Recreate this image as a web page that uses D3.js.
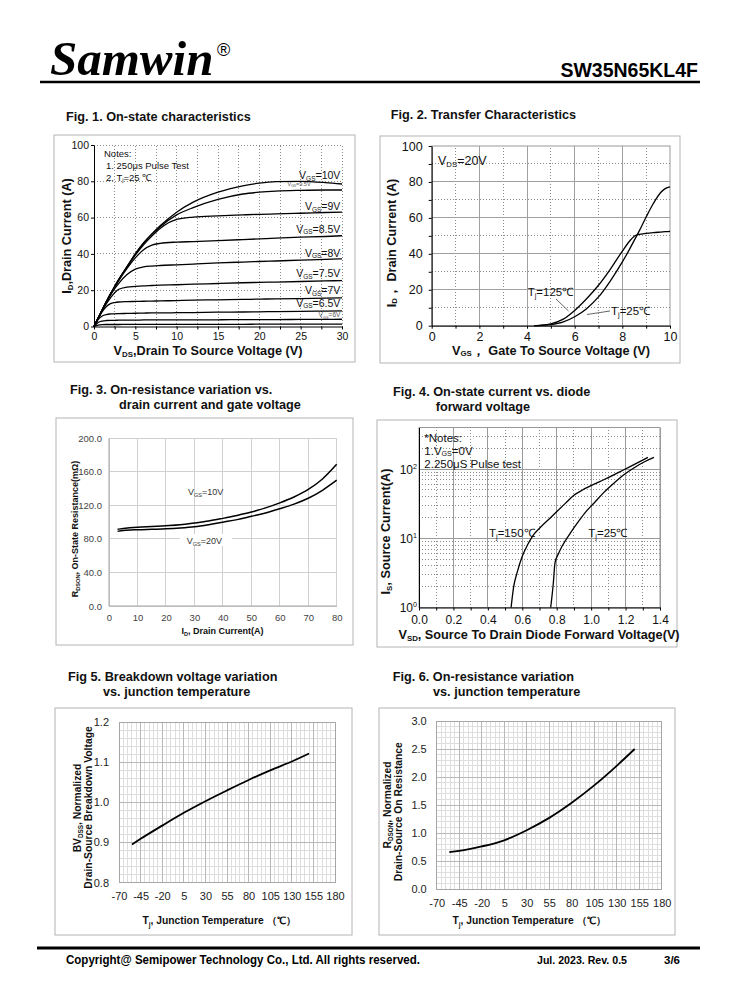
<!DOCTYPE html>
<html><head><meta charset="utf-8">
<script src="https://cdn.jsdelivr.net/npm/d3@7"></script>
<style>
body{margin:0;background:#fff;}
svg{display:block;font-family:"Liberation Sans",Arial,sans-serif;}
</style></head><body>
<svg id="c" width="738" height="1000"></svg>
<script>
// ---------------- DATA ----------------
// Fig 1: on-state characteristics (ID vs VDS)
const fig1Vds = [0,0.5,1,1.5,2,2.5,3,4,5,6,7,8,10,12,15,18,20,22,25,28,30];
const fig1Id10  = [0,4.6,9.2,13.7,18,22,26,33,40,46,51,55.5,63,68.5,74,77.5,79,79.8,80,79.3,78.5];
const fig1Id95  = [0,4.6,9.2,13.7,18,22,26,33,40,46,50.8,55,61.5,65.5,70,73,74,74.6,75,75.2,75.2];
const fig1Id9   = [0,4.6,9.2,13.7,18,22,25.8,32.8,39.3,45,49.8,54,59,60.3,61,61.5,61.8,62,62.4,62.8,63];
const fig1Id85  = [0,4.6,9.2,13.6,17.8,21.6,25.3,32,37.8,42.3,44.8,45.8,46.5,46.8,47.3,47.9,48.3,48.7,49.2,49.6,50];
const fig1Id8   = [0,4.6,9.1,13.4,17.3,20.8,23.8,28.6,31.6,32.8,33.3,33.6,34,34.4,35,35.5,35.8,36.1,36.6,37,37.3];
const fig1Id75  = [0,4.5,8.8,12.6,15.8,18.6,20.5,21.7,22.1,22.4,22.6,22.8,23,23.3,23.7,24.1,24.3,24.5,24.8,25.1,25.3];
const fig1Id7   = [0,4.3,8.2,11,12.6,13.2,13.5,13.7,13.8,13.9,14,14.1,14.3,14.5,14.7,14.9,15.1,15.2,15.4,15.6,15.8];
const fig1Id65  = [0,3.8,5.8,6.6,6.9,7,7.1,7.2,7.3,7.4,7.5,7.5,7.6,7.7,7.9,8,8.1,8.2,8.3,8.5,8.6];
const fig1Id6   = [0,2.2,3,3.3,3.4,3.4,3.5,3.5,3.5,3.6,3.6,3.6,3.7,3.7,3.7,3.8,3.8,3.8,3.9,3.9,4];
const fig1Id55  = [0,0.7,1,1.1,1.1,1.1,1.1,1.2,1.2,1.2,1.2,1.2,1.2,1.2,1.2,1.2,1.3,1.3,1.3,1.3,1.3];
const fig1Ticks = [0,5,10,15,20,25,30];
const fig1YTicks = [0,20,40,60,80,100];

// Fig 2: transfer characteristics
const fig2Vgs   = [4.3,4.5,5,5.5,6,6.5,7,7.5,8,8.3,8.5,8.7,9,9.3,9.6,9.8,10];
const fig2Id125 = [0,0.2,1,3.5,8.5,15,22.5,31.5,41.5,47,49.8,50.8,51.4,51.8,52.1,52.3,52.5];
const fig2Id25  = [0,0.05,0.6,2,5,9.5,16,25,35.5,42.5,47.5,52.5,60.5,68,74,76.3,77.2];
const fig2XTicks = [0,2,4,6,8,10];
const fig2YTicks = [0,20,40,60,80,100];

// Fig 3: on-resistance vs drain current
const fig3Id    = [3,5,10,15,20,25,30,35,40,45,50,55,60,65,70,75,80];
const fig3R10   = [91.5,92.3,93.8,94.8,95.8,97,99,101.3,104.5,108,112,117,123,130,139,151.5,169];
const fig3R20   = [89,90,91,91.5,92,93,94.5,97,100,103,107,111,116,121.5,128.5,138,150];
const fig3XTicks = [0,10,20,30,40,50,60,70,80];
const fig3YTicks = [0,40,80,120,160,200];

// Fig 4: diode forward characteristics
const fig4V150  = [0.535,0.55,0.57,0.6,0.63,0.66,0.7,0.77,0.85,0.9,0.95,1.05,1.12,1.19,1.26,1.33];
const fig4I150  = [1,2,3.2,5.5,8,10.8,14,20.5,32,42,50,66,80,98,120,148];
const fig4V25   = [0.765,0.78,0.79,0.81,0.83,0.88,0.93,0.97,1.02,1.07,1.13,1.19,1.25,1.31,1.365];
const fig4I25   = [1,2.2,4.4,6,7.6,12,18,24.3,33,45,62,83,105,128,148];
const fig4XTicks = [0,0.2,0.4,0.6,0.8,1.0,1.2,1.4];
const fig4YTicks = [1,10,100];

// Fig 5 / Fig 6: vs junction temperature
const fig5T  = [-55,-45,-20,5,30,55,80,105,130,150];
const fig5BV = [0.895,0.909,0.942,0.974,1.003,1.03,1.056,1.08,1.102,1.122];
const fig6T  = [-56,-45,-20,5,30,55,80,105,130,150];
const fig6R  = [0.66,0.68,0.76,0.87,1.05,1.27,1.54,1.85,2.2,2.5];
const tempTicks = [-70,-45,-20,5,30,55,80,105,130,155,180];
const fig5YTicks = [0.8,0.9,1.0,1.1,1.2];
const fig6YTicks = [0,0.5,1,1.5,2,2.5,3];

// ---------------- HELPERS ----------------
const svg = d3.select("#c");
svg.append("rect").attr("width",738).attr("height",1000).attr("fill","#fff");

function rich(parent, parts, attrs, size, subScale, shift){
  subScale = subScale || 0.62;
  const sh = shift === undefined ? 0.25 : shift;
  const t = parent.append("text").attr("font-size", size);
  for (const k in attrs) t.attr(k, attrs[k]);
  let cur = 0;
  parts.forEach(p => {
    const s = typeof p === "string" ? p : p[0];
    const m = typeof p === "string" ? "" : p[1];
    const target = m === "sub" ? size*sh : (m === "sup" ? -size*0.42 : 0);
    const ts = t.append("tspan").text(s);
    if (target - cur !== 0) ts.attr("dy", target - cur);
    if (m) ts.attr("font-size", size*subScale);
    cur = target;
  });
  return t;
}
function frame(x,y,w,h){
  svg.append("rect").attr("x",x).attr("y",y).attr("width",w).attr("height",h)
    .attr("fill","none").attr("stroke","#b4b4b4").attr("stroke-width",1);
}
function title(lines){
  lines.forEach(l => svg.append("text").attr("x",l[0]).attr("y",l[1])
    .attr("font-size",12.7).attr("font-weight","bold").attr("fill","#111").text(l[2]));
}
function styleAxis(g, size, color){
  g.attr("font-family",null).attr("font-size",null);
  g.selectAll("text").attr("font-size",size).attr("fill",color||"#111")
    .attr("font-family","Liberation Sans, Arial, sans-serif");
}
function vgrid(g, xs, vals, y0, y1, color, dash){
  g.selectAll(null).data(vals).enter().append("line")
    .attr("x1",d=>xs(d)).attr("x2",d=>xs(d)).attr("y1",y0).attr("y2",y1)
    .attr("stroke",color).attr("stroke-width",1).attr("stroke-dasharray",dash||null)
    .attr("shape-rendering","crispEdges");
}
function hgrid(g, ys, vals, x0, x1, color, dash){
  g.selectAll(null).data(vals).enter().append("line")
    .attr("y1",d=>ys(d)).attr("y2",d=>ys(d)).attr("x1",x0).attr("x2",x1)
    .attr("stroke",color).attr("stroke-width",1).attr("stroke-dasharray",dash||null)
    .attr("shape-rendering","crispEdges");
}
function curve(g, xs, ys, X, Y, w, c){
  const pts = X.map((x,i)=>[x,Y[i]]);
  g.append("path").attr("d", d3.line().x(d=>xs(d[0])).y(d=>ys(d[1])).curve(d3.curveMonotoneX)(pts))
    .attr("fill","none").attr("stroke",c||"#000").attr("stroke-width",w||1.3);
}
const bold = {"font-weight":"bold","fill":"#111"};

// ---------------- HEADER ----------------
svg.append("text").attr("x",50).attr("y",75).attr("font-family","Liberation Serif, Times New Roman, serif")
  .attr("font-weight","bold").attr("font-style","italic").attr("font-size",49).attr("fill","#000").text("Samwin");
svg.append("text").attr("x",217).attr("y",56).attr("font-size",18).attr("fill","#000").text("®");
svg.append("text").attr("x",698).attr("y",77).attr("text-anchor","end").attr("font-size",19.5)
  .attr("font-weight","bold").attr("fill","#000").text("SW35N65KL4F");
svg.append("line").attr("x1",40).attr("x2",700).attr("y1",82).attr("y2",82).attr("stroke","#000").attr("stroke-width",2.5);

// ---------------- FIG 1 ----------------
title([[66,121,"Fig. 1. On-state characteristics"]]);
frame(54,135,301,227);
{
  const g = svg.append("g");
  const xs = d3.scaleLinear().domain([0,30]).range([94,342]);
  const ys = d3.scaleLinear().domain([0,100]).range([326.5,145]);
  vgrid(g, xs, d3.range(2.5,30.01,2.5), ys(0), ys(100), "#8a8a8a", "1,2");
  hgrid(g, ys, [20,40,60,80,100], xs(0), xs(30), "#8a8a8a", "1,2");
  const ax = g.append("g").attr("transform",`translate(0,${ys(0)})`)
    .call(d3.axisBottom(xs).tickValues(d3.range(0,30.01,2.5)).tickFormat(d=>fig1Ticks.includes(d)?String(d):"").tickSizeInner(3).tickSizeOuter(0).tickPadding(3));
  styleAxis(ax, 10.5);
  const ay = g.append("g").attr("transform",`translate(${xs(0)},0)`)
    .call(d3.axisLeft(ys).tickValues(fig1YTicks).tickFormat(d=>String(d)).tickSizeInner(3).tickSizeOuter(0).tickPadding(2));
  styleAxis(ay, 10.5);
  ax.select(".domain").attr("stroke","#000"); ay.select(".domain").attr("stroke","#000");
  const series = [fig1Id10,fig1Id95,fig1Id9,fig1Id85,fig1Id8,fig1Id75,fig1Id7,fig1Id65,fig1Id6,fig1Id55];
  series.forEach(s => curve(g, xs, ys, fig1Vds, s, 1.3));
  const last = s => s[s.length-1];
  const big = [[fig1Id10,"10V",-5],[fig1Id9,"9V",-2],[fig1Id85,"8.5V",-3],[fig1Id8,"8V",-2],[fig1Id75,"7.5V",-3.5],[fig1Id7,"7V",-3.5],[fig1Id65,"6.5V",-4]];
  big.forEach(b => rich(g, ["V",["GS","sub"],["="+b[1],""]], {x:xs(29.8), y:ys(last(b[0]))+b[2], "text-anchor":"end", fill:"#111"}, 10.5, 0.62, 0.15));
  rich(g, ["V",["GS","sub"],["=9.5V",""]], {x:xs(26.2), y:ys(75.2)-4, "text-anchor":"end", fill:"#555"}, 5.5);
  rich(g, ["V",["GS","sub"],["=6V",""]], {x:xs(29.8), y:ys(last(fig1Id6))-2, "text-anchor":"end", fill:"#555"}, 6.5);
  g.append("text").attr("x",104).attr("y",157).attr("font-size",9.5).attr("fill","#111").text("Notes:");
  g.append("text").attr("x",106).attr("y",169).attr("font-size",9.5).attr("fill","#111").text("1. 250\u03bcs  Pulse Test");
  rich(g, ["2. T",["j","sub"],["=25 \u2103",""]], {x:106, y:181, fill:"#111"}, 9.5, 0.62, 0.15);
  rich(svg, ["V",["DS","sub"],[",Drain To Source Voltage (V)",""]], Object.assign({x:208,y:355,"text-anchor":"middle"},bold), 12.7, 0.62, 0.15);
  rich(svg, ["I",["D","sub"],[",Drain Current (A)",""]], Object.assign({transform:"translate(71,236) rotate(-90)","text-anchor":"middle"},bold), 12.7, 0.62, 0.15);
}

// ---------------- FIG 2 ----------------
title([[390.7,118.5,"Fig. 2. Transfer Characteristics"]]);
frame(380,136,300,227);
{
  const g = svg.append("g");
  const xs = d3.scaleLinear().domain([0,10]).range([431.7,670]);
  const ys = d3.scaleLinear().domain([0,100]).range([325.7,146]);
  vgrid(g, xs, [2,4,6,8], ys(0), ys(100), "#a0a0a0");
  vgrid(g, xs, [1,3,5,7,9], ys(0), ys(100), "#8a8a8a", "1,2");
  hgrid(g, ys, [20,40,60,80], xs(0), xs(10), "#a0a0a0");
  hgrid(g, ys, [10,30,50,70,90], xs(0), xs(10), "#8a8a8a", "1,2");
  g.append("rect").attr("x",xs(0)).attr("y",ys(100)).attr("width",xs(10)-xs(0)).attr("height",ys(0)-ys(100))
    .attr("fill","none").attr("stroke","#999");
  const ax = g.append("g").attr("transform",`translate(0,${ys(0)})`)
    .call(d3.axisBottom(xs).tickValues(d3.range(0,10.01,1)).tickFormat(d=>fig2XTicks.includes(d)?String(d):"").tickSizeInner(3).tickSizeOuter(0).tickPadding(3));
  styleAxis(ax, 12.5);
  const ay = g.append("g").attr("transform",`translate(${xs(0)},0)`)
    .call(d3.axisLeft(ys).tickValues(d3.range(0,100.1,10)).tickFormat(d=>fig2YTicks.includes(d)?String(d):"").tickSizeInner(3).tickSizeOuter(0).tickPadding(6));
  styleAxis(ay, 12.5);
  ax.select(".domain").attr("stroke","#000"); ay.select(".domain").attr("stroke","#000");
  curve(g, xs, ys, fig2Vgs, fig2Id125, 1.3);
  curve(g, xs, ys, fig2Vgs, fig2Id25, 1.3);
  rich(g, ["V",["DS","sub"],["=20V",""]], {x:438, y:165, fill:"#111"}, 12.5, 0.62, 0.15);
  rich(g, ["T",["j","sub"],["=125\u2103",""]], {x:527.7, y:296, fill:"#111"}, 11.5, 0.62, 0.15);
  rich(g, ["T",["j","sub"],["=25\u2103",""]], {x:611, y:315, fill:"#111"}, 11.5, 0.62, 0.15);
  g.append("line").attr("x1",556).attr("y1",299).attr("x2",568.5).attr("y2",311).attr("stroke","#666").attr("stroke-width",1);
  g.append("line").attr("x1",610).attr("y1",311).attr("x2",587).attr("y2",314.5).attr("stroke","#666").attr("stroke-width",1);
  rich(svg, ["V",["GS","sub"],["\uFF0C Gate To Source Voltage (V)",""]], Object.assign({x:551,y:354.5,"text-anchor":"middle"},bold), 12.7, 0.62, 0.15);
  rich(svg, ["I",["D","sub"],["\uFF0C Drain Current (A)",""]], Object.assign({transform:"translate(395.5,243) rotate(-90)","text-anchor":"middle"},bold), 12.7, 0.62, 0.15);
}

// ---------------- FIG 3 ----------------
title([[70,393.5,"Fig. 3. On-resistance variation vs."],[119,409,"drain current and gate voltage"]]);
frame(56,418,297,227);
{
  const g = svg.append("g");
  const xs = d3.scaleLinear().domain([0,80]).range([109,336.7]);
  const ys = d3.scaleLinear().domain([0,200]).range([606,438.3]);
  vgrid(g, xs, fig3XTicks, ys(0), ys(200), "#d0d0d0");
  hgrid(g, ys, fig3YTicks, xs(0), xs(80), "#d0d0d0");
  g.append("line").attr("x1",xs(0)).attr("x2",xs(0)).attr("y1",ys(0)).attr("y2",ys(200)).attr("stroke","#a6a6a6");
  g.append("line").attr("x1",xs(0)).attr("x2",xs(80)).attr("y1",ys(0)).attr("y2",ys(0)).attr("stroke","#a6a6a6");
  const ax = g.append("g").attr("transform",`translate(0,${ys(0)})`)
    .call(d3.axisBottom(xs).tickValues(fig3XTicks).tickFormat(d=>String(d)).tickSize(0).tickPadding(8));
  styleAxis(ax, 9.5, "#444"); ax.select(".domain").remove();
  const ay = g.append("g").attr("transform",`translate(${xs(0)},0)`)
    .call(d3.axisLeft(ys).tickValues(fig3YTicks).tickFormat(d3.format(".1f")).tickSize(0).tickPadding(7));
  styleAxis(ay, 9.5, "#444"); ay.select(".domain").remove();
  curve(g, xs, ys, fig3Id, fig3R10, 1.5);
  curve(g, xs, ys, fig3Id, fig3R20, 1.5);
  g.append("rect").attr("x",180).attr("y",534).attr("width",52).attr("height",12).attr("fill","#fff");
  rich(g, ["V",["GS","sub"],["=10V",""]], {x:188, y:495, fill:"#333"}, 9);
  rich(g, ["V",["GS","sub"],["=20V",""]], {x:186.7, y:543.5, fill:"#333"}, 9);
  rich(svg, ["I",["D","sub"],[", Drain Current(A)",""]], Object.assign({x:222.5,y:634,"text-anchor":"middle"},bold), 9);
  rich(svg, ["R",["DSON","sub"],[", On-State Resistance(m\u03a9)",""]], Object.assign({transform:"translate(78,529) rotate(-90)","text-anchor":"middle"},bold), 9);
}

// ---------------- FIG 4 ----------------
title([[393,396,"Fig. 4. On-state current vs. diode"],[435.7,410.5,"forward voltage"]]);
frame(377,420,300,227);
{
  const g = svg.append("g");
  const xs = d3.scaleLinear().domain([0,1.4]).range([419,660]);
  const ys = d3.scaleLog().domain([1,400]).range([607.5,427.5]);
  const even = d3.range(0,15,2).map(d=>d/10), odd = d3.range(1,14,2).map(d=>d/10);
  vgrid(g, xs, even.slice(1), ys(1), ys(400), "#9a9a9a");
  vgrid(g, xs, odd, ys(1), ys(400), "#8a8a8a", "1,2");
  const minors = [];
  [1,10,100].forEach(dec => d3.range(2,10).forEach(k => { if (k*dec < 400) minors.push(k*dec); }));
  hgrid(g, ys, minors, xs(0), xs(1.4), "#8a8a8a", "1,2");
  hgrid(g, ys, [10,100], xs(0), xs(1.4), "#9a9a9a");
  g.append("rect").attr("x",xs(0)).attr("y",ys(400)).attr("width",xs(1.4)-xs(0)).attr("height",ys(1)-ys(400))
    .attr("fill","none").attr("stroke","#999");
  const ax = g.append("g").attr("transform",`translate(0,${ys(1)})`)
    .call(d3.axisBottom(xs).tickValues(d3.range(0,15).map(d=>d/10)).tickFormat(d=>Math.round(d*10)%2===0?d3.format(".1f")(d):"").tickSizeInner(3).tickSizeOuter(0).tickPadding(5));
  styleAxis(ax, 12);
  const ay = g.append("g").attr("transform",`translate(${xs(0)},0)`)
    .call(d3.axisLeft(ys).tickValues(fig4YTicks).tickFormat("").tickSize(0));
  ax.select(".domain").attr("stroke","#000"); ay.select(".domain").attr("stroke","#000");
  fig4YTicks.forEach(v => rich(g, ["10",[String(Math.round(Math.log10(v))),"sup"]], {x:417, y:ys(v)+4.5, "text-anchor":"end", fill:"#111"}, 12, 0.6));
  curve(g, xs, ys, fig4V150, fig4I150, 1.3);
  curve(g, xs, ys, fig4V25, fig4I25, 1.3);
  g.append("text").attr("x",424.3).attr("y",441.7).attr("font-size",11.5).attr("fill","#111").text("*Notes:");
  rich(g, ["1.V",["GS","sub"],["=0V",""]], {x:424.3, y:455, fill:"#111"}, 11.5, 0.62, 0.1);
  g.append("text").attr("x",424.3).attr("y",467.5).attr("font-size",11.5).attr("fill","#111").text("2.250\u03bcS Pulse test");
  rich(g, ["T",["j","sub"],["=150\u2103",""]], {x:489, y:537, fill:"#111"}, 11.5, 0.62, 0.15);
  rich(g, ["T",["j","sub"],["=25\u2103",""]], {x:588.3, y:537, fill:"#111"}, 11.5, 0.62, 0.15);
  rich(svg, ["V",["SD","sub"],[", Source To Drain Diode Forward Voltage(V)",""]], Object.assign({x:539,y:639,"text-anchor":"middle"},bold), 12.7, 0.62, 0.15);
  rich(svg, ["I",["S","sub"],[", Source Current(A)",""]], Object.assign({transform:"translate(390,531.5) rotate(-90)","text-anchor":"middle"},bold), 12.7, 0.62, 0.15);
}

// ---------------- FIG 5 & 6 ----------------
function tempChart(cfg){
  const g = svg.append("g");
  const xs = d3.scaleLinear().domain([-70,180]).range(cfg.xr);
  const ys = d3.scaleLinear().domain(cfg.yd).range(cfg.yr);
  vgrid(g, xs, d3.range(-70,180.1,5), ys(cfg.yd[0]), ys(cfg.yd[1]), "#dedede");
  hgrid(g, ys, d3.range(0, Math.round((cfg.yd[1]-cfg.yd[0])/cfg.minor)+1).map(i=>cfg.yd[0]+i*cfg.minor), xs(-70), xs(180), "#dedede");
  vgrid(g, xs, tempTicks, ys(cfg.yd[0]), ys(cfg.yd[1]), "#b8b8b8");
  hgrid(g, ys, cfg.yt, xs(-70), xs(180), "#b8b8b8");
  g.append("rect").attr("x",xs(-70)).attr("y",ys(cfg.yd[1])).attr("width",xs(180)-xs(-70)).attr("height",ys(cfg.yd[0])-ys(cfg.yd[1]))
    .attr("fill","none").attr("stroke","#a6a6a6").attr("shape-rendering","crispEdges");
  const ax = g.append("g").attr("transform",`translate(0,${ys(cfg.yd[0])})`)
    .call(d3.axisBottom(xs).tickValues(tempTicks).tickFormat(d=>String(d)).tickSize(0).tickPadding(10));
  styleAxis(ax, 11, "#222"); ax.select(".domain").remove();
  const ay = g.append("g").attr("transform",`translate(${xs(-70)},0)`)
    .call(d3.axisLeft(ys).tickValues(cfg.yt).tickFormat(d3.format(".1f")).tickSize(0).tickPadding(10));
  styleAxis(ay, 11, "#222"); ay.select(".domain").remove();
  curve(g, xs, ys, cfg.X, cfg.Y, 1.8);
  return g;
}
title([[68,681,"Fig 5. Breakdown voltage variation"],[103,695.5,"vs. junction temperature"]]);
frame(55,708,297,227);
tempChart({xr:[119,335], yd:[0.8,1.2], yr:[882.5,722.3], minor:0.02, yt:fig5YTicks, X:fig5T, Y:fig5BV});
rich(svg, ["BV",["DSS","sub"],[", Normalized",""]], Object.assign({transform:"translate(80.5,808) rotate(-90)","text-anchor":"middle"},bold), 10.3);
svg.append("text").attr("transform","translate(91.5,807.5) rotate(-90)").attr("text-anchor","middle").attr("font-size",10.3)
  .attr("font-weight","bold").attr("fill","#111").text("Drain-Source Breakdown Voltage");
rich(svg, ["T",["j","sub"],[", Junction Temperature \uFF08\u2103\uFF09",""]], Object.assign({x:219,y:924.3,"text-anchor":"middle"},bold), 10.3);

title([[392.7,681,"Fig. 6. On-resistance variation"],[433,695.5,"vs. junction temperature"]]);
frame(379,708,296,227);
tempChart({xr:[436.7,661.7], yd:[0,3], yr:[889,721], minor:0.1, yt:fig6YTicks, X:fig6T, Y:fig6R});
rich(svg, ["R",["DSON","sub"],[", Normalized",""]], Object.assign({transform:"translate(390.5,805) rotate(-90)","text-anchor":"middle"},bold), 10.3);
svg.append("text").attr("transform","translate(402,811.7) rotate(-90)").attr("text-anchor","middle").attr("font-size",10.3)
  .attr("font-weight","bold").attr("fill","#111").text("Drain-Source On Resistance");
rich(svg, ["T",["j","sub"],[", Junction Temperature \uFF08\u2103\uFF09",""]], Object.assign({x:529,y:924.3,"text-anchor":"middle"},bold), 10.3);

// ---------------- FOOTER ----------------
svg.append("line").attr("x1",37).attr("x2",700).attr("y1",948).attr("y2",948).attr("stroke","#000").attr("stroke-width",3);
svg.append("text").attr("x",66).attr("y",964).attr("font-size",12.3).attr("font-weight","bold").attr("fill","#000")
  .attr("textLength",354).attr("lengthAdjust","spacingAndGlyphs").text("Copyright@ Semipower Technology Co., Ltd. All rights reserved.");
svg.append("text").attr("x",537).attr("y",964).attr("font-size",10.5).attr("font-weight","bold").attr("fill","#000")
  .attr("textLength",90).attr("lengthAdjust","spacingAndGlyphs").text("Jul. 2023. Rev. 0.5");
svg.append("text").attr("x",664).attr("y",964).attr("font-size",10.5).attr("font-weight","bold").attr("fill","#000")
  .attr("textLength",16).attr("lengthAdjust","spacingAndGlyphs").text("3/6");
</script>
</body></html>
